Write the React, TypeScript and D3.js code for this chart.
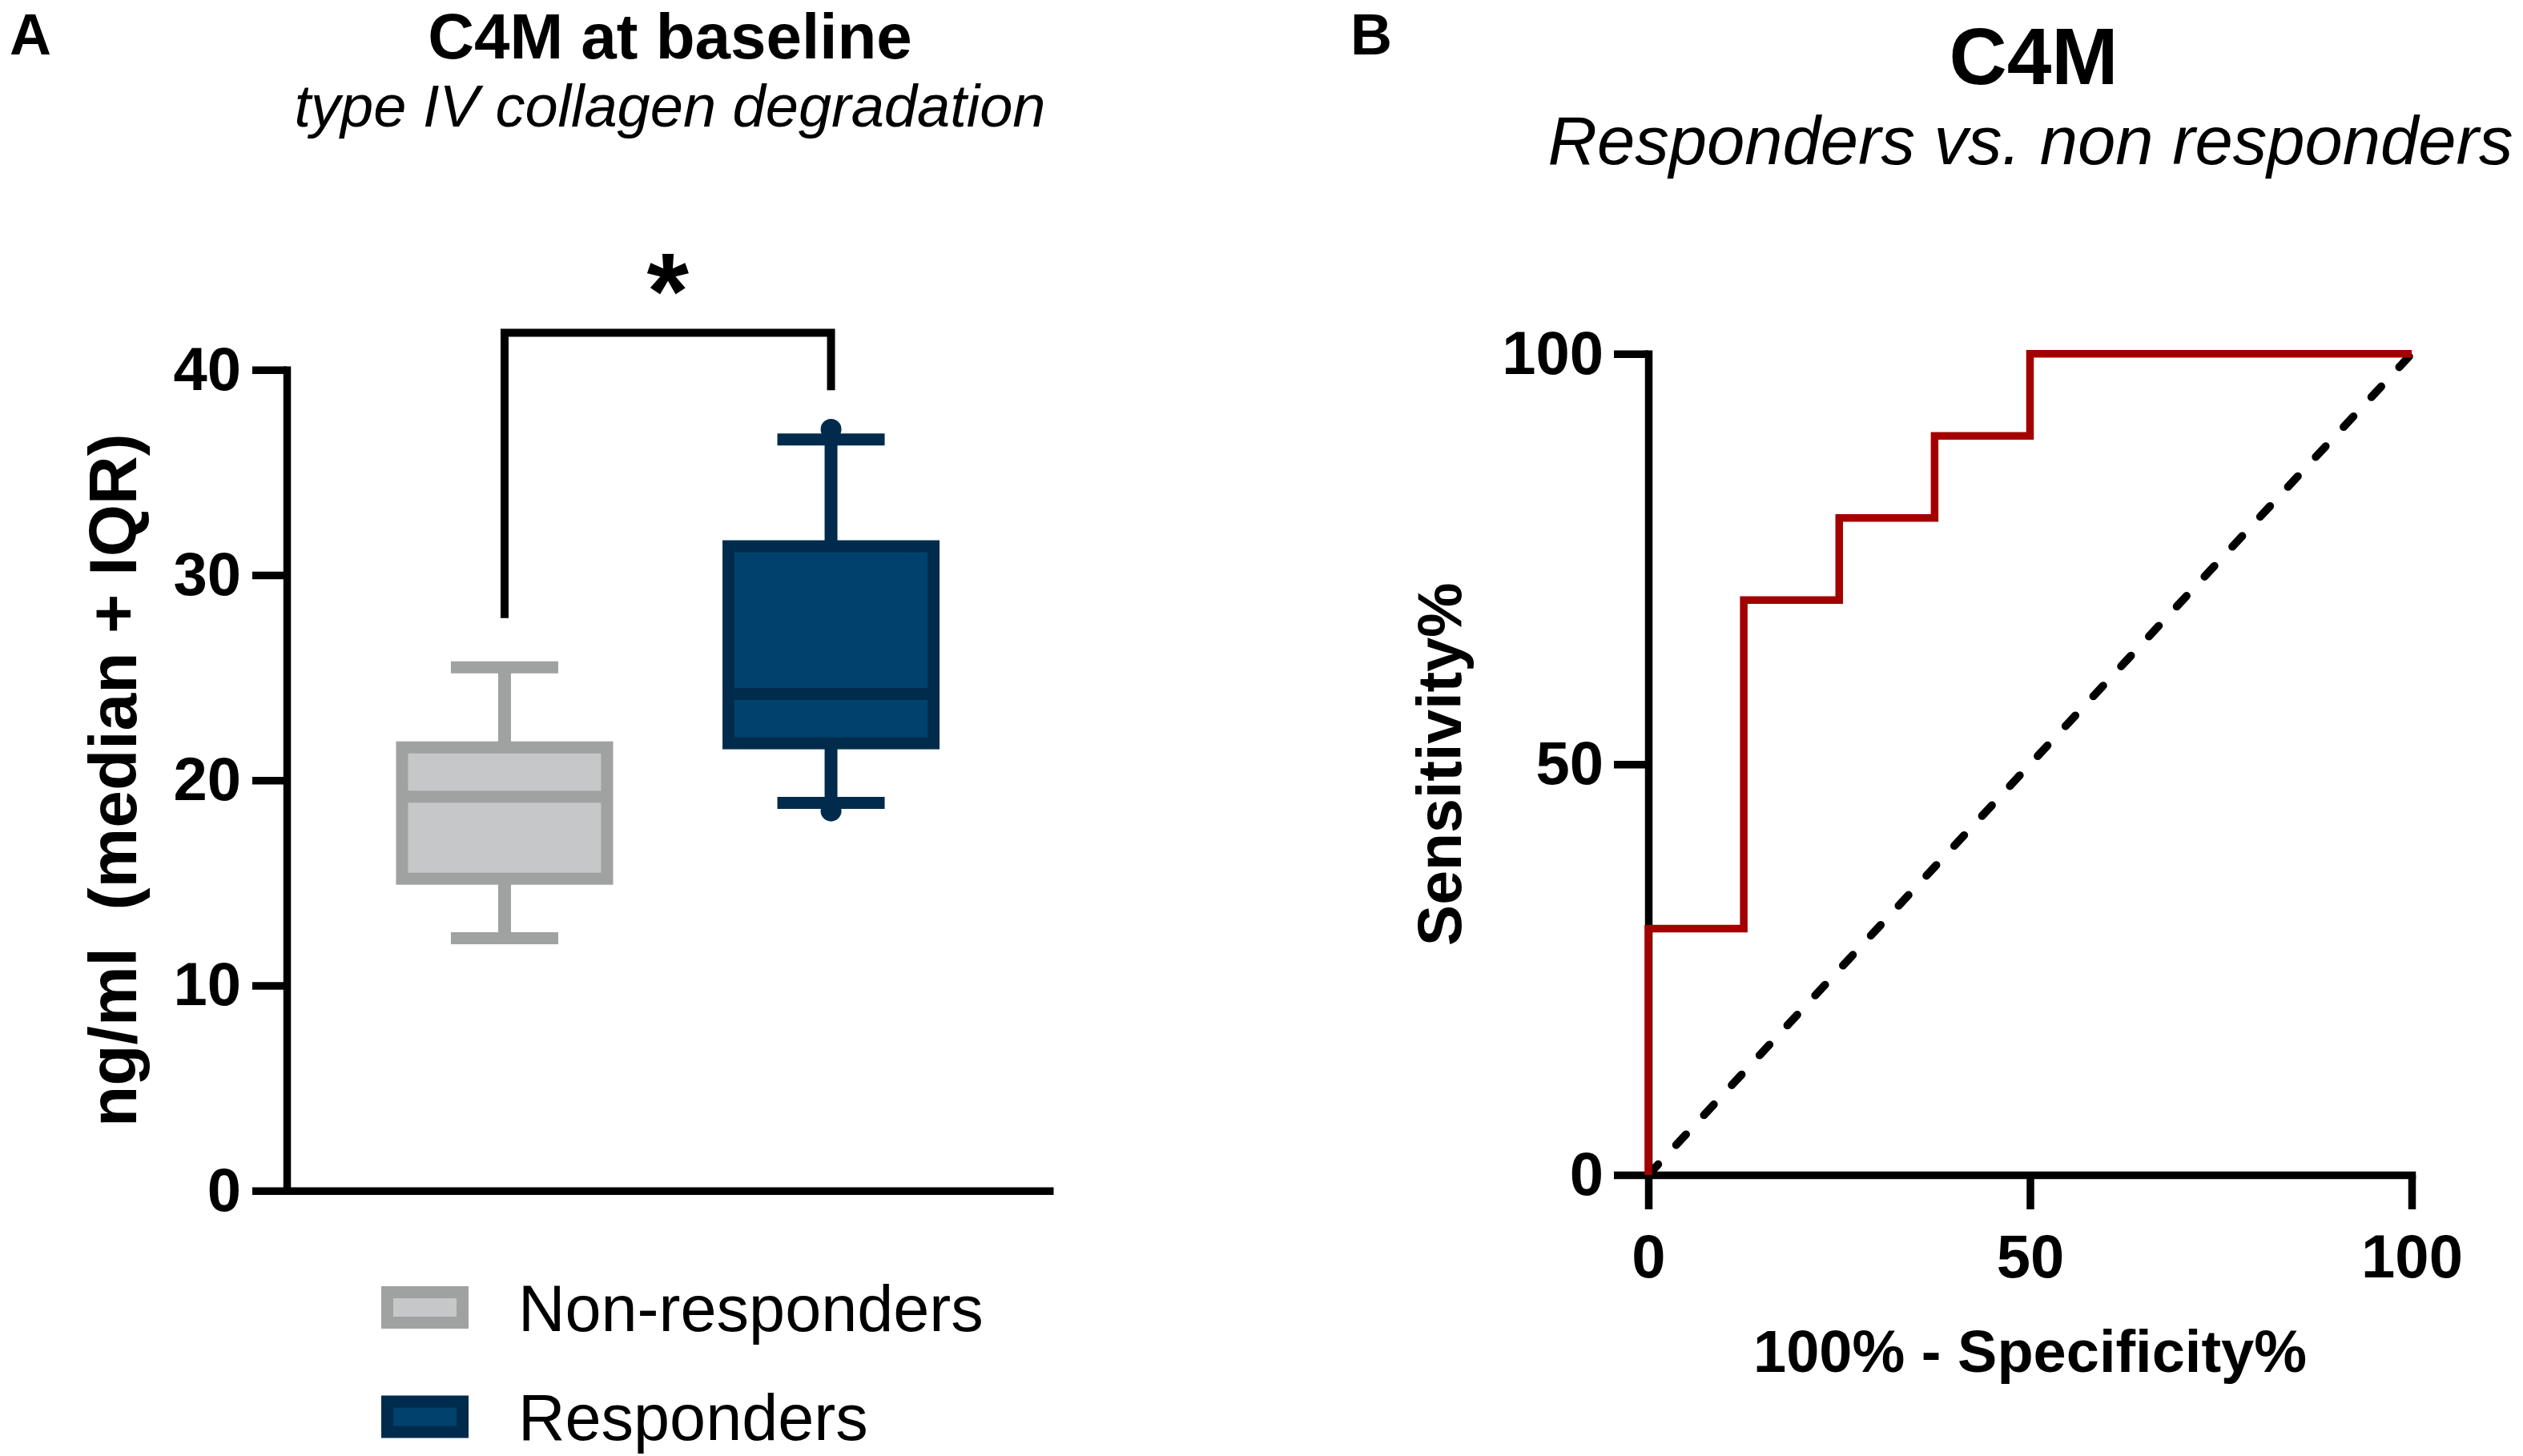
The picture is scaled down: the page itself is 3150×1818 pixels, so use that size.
import { useEffect, useRef } from "react";
import * as d3 from "d3";

const W = 3150;
const H = 1818;
const FONT = "'Liberation Sans', Arial, Helvetica, sans-serif";

// Panel A: box plot values (ng/ml)
const groups = ["Non-responders", "Responders"];
const whiskerLow = [12.3, 18.9];
const q1 = [15.2, 21.8];
const medians = [19.2, 24.2];
const q3 = [21.6, 31.4];
const whiskerHigh = [25.5, 36.6];
const outlierGroups = ["Responders", "Responders"];
const outlierValues = [37.1, 18.5];
const fillColors = ["#c6c7c8", "#00426d"];
const strokeColors = ["#a0a1a1", "#012b4c"];
const yTicksA = [0, 10, 20, 30, 40];
const bracketTop = 41.8;
const bracketEnds = [27.9, 39.0];
const sigLabel = "*";

// Panel B: ROC curve (100% - specificity, sensitivity)
const rocFpr = [0, 0, 12.5, 25, 37.5, 50, 100];
const rocTpr = [0, 30, 70, 80, 90, 100, 100];
const chanceX = [0, 100];
const chanceY = [0, 100];
const ticksB = [0, 50, 100];

const A = { left: 358, right: 1315, top: 461.7, bottom: 1486.7 };
const B = { left: 2058, right: 3011, top: 441.7, bottom: 1467 };
const AXIS_W = 9.5;

function styleAxis(axis: d3.Selection<SVGGElement, unknown, null, undefined>, cap: string) {
  axis.attr("font-family", null).attr("font-size", null);
  axis.select(".domain").attr("stroke", "#000").attr("stroke-width", AXIS_W).attr("stroke-linecap", cap);
  axis.selectAll(".tick line").attr("stroke", "#000").attr("stroke-width", AXIS_W);
  axis
    .selectAll(".tick text")
    .attr("fill", "#000")
    .attr("font-size", 76)
    .attr("font-weight", "bold")
    .attr("font-family", FONT);
}

export default function App() {
  const svgRef = useRef<SVGSVGElement>(null);

  useEffect(() => {
    document.body.style.margin = "0";
    const svg = d3.select(svgRef.current);
    svg.selectAll("*").remove();

    // ---------- Panel A ----------
    const yA = d3.scaleLinear().domain([0, 40]).range([A.bottom, A.top]);
    const xA = d3.scalePoint<string>().domain(groups).range([A.left, A.right]).padding(0.674).align(0.495);
    const boxW = 256;
    const capW = 134;

    const gA = svg.append("g");

    const yAxisA = gA
      .append("g")
      .attr("transform", `translate(${A.left},0)`)
      .call(d3.axisLeft(yA).tickValues(yTicksA).tickSize(43).tickSizeOuter(0).tickPadding(14));
    styleAxis(yAxisA, "square");

    const xAxisA = gA
      .append("g")
      .attr("transform", `translate(0,${A.bottom})`)
      .call(d3.axisBottom(xA).tickSize(0).tickSizeOuter(0).tickFormat(() => ""));
    styleAxis(xAxisA, "butt");

    groups.forEach((g, i) => {
      const cx = xA(g) as number;
      const col = strokeColors[i];
      // whiskers
      gA.append("line")
        .attr("x1", cx).attr("x2", cx)
        .attr("y1", yA(q3[i])).attr("y2", yA(whiskerHigh[i]))
        .attr("stroke", col).attr("stroke-width", 16);
      gA.append("line")
        .attr("x1", cx).attr("x2", cx)
        .attr("y1", yA(q1[i])).attr("y2", yA(whiskerLow[i]))
        .attr("stroke", col).attr("stroke-width", 16);
      [whiskerHigh[i], whiskerLow[i]].forEach((v) => {
        gA.append("line")
          .attr("x1", cx - capW / 2).attr("x2", cx + capW / 2)
          .attr("y1", yA(v)).attr("y2", yA(v))
          .attr("stroke", col).attr("stroke-width", 15);
      });
      // box
      gA.append("rect")
        .attr("x", cx - boxW / 2)
        .attr("y", yA(q3[i]))
        .attr("width", boxW)
        .attr("height", yA(q1[i]) - yA(q3[i]))
        .attr("fill", fillColors[i])
        .attr("stroke", col)
        .attr("stroke-width", 15);
      gA.append("line")
        .attr("x1", cx - boxW / 2).attr("x2", cx + boxW / 2)
        .attr("y1", yA(medians[i])).attr("y2", yA(medians[i]))
        .attr("stroke", col).attr("stroke-width", 15);
    });

    outlierValues.forEach((v, i) => {
      const gi = groups.indexOf(outlierGroups[i]);
      gA.append("circle")
        .attr("cx", xA(outlierGroups[i]) as number)
        .attr("cy", yA(v))
        .attr("r", 13)
        .attr("fill", strokeColors[gi]);
    });

    // significance bracket
    const bx0 = xA(groups[0]) as number;
    const bx1 = xA(groups[1]) as number;
    gA.append("path")
      .attr("d", `M${bx0},${yA(bracketEnds[0])}V${yA(bracketTop)}H${bx1}V${yA(bracketEnds[1])}`)
      .attr("fill", "none")
      .attr("stroke", "#000")
      .attr("stroke-width", 10)
      .attr("stroke-linejoin", "miter");
    gA.append("text")
      .attr("x", (bx0 + bx1) / 2)
      .attr("y", yA(bracketTop) - 6)
      .attr("text-anchor", "middle")
      .attr("font-family", FONT)
      .attr("font-weight", "bold")
      .attr("font-size", 135)
      .text(sigLabel);

    // y label
    gA.append("text")
      .attr("transform", `translate(170,${(A.top + A.bottom) / 2}) rotate(-90)`)
      .attr("text-anchor", "middle")
      .attr("font-family", FONT)
      .attr("font-weight", "bold")
      .attr("font-size", 84)
      .style("white-space", "pre")
      .text("ng/ml  (median + IQR)");

    // titles
    const cxA = (A.left + A.right) / 2;
    gA.append("text")
      .attr("x", cxA).attr("y", 73)
      .attr("text-anchor", "middle")
      .attr("font-family", FONT).attr("font-weight", "bold").attr("font-size", 80)
      .text("C4M at baseline");
    gA.append("text")
      .attr("x", cxA).attr("y", 158)
      .attr("text-anchor", "middle")
      .attr("font-family", FONT).attr("font-style", "italic").attr("font-size", 74)
      .text("type IV collagen degradation");

    // legend
    groups.forEach((g, i) => {
      const cy = 1632.5 + i * 136.5;
      gA.append("rect")
        .attr("x", 483.5).attr("y", cy - 19)
        .attr("width", 94).attr("height", 38)
        .attr("fill", fillColors[i]).attr("stroke", strokeColors[i]).attr("stroke-width", 15);
      gA.append("text")
        .attr("x", 647).attr("y", cy + 29)
        .attr("font-family", FONT).attr("font-size", 81)
        .text(g);
    });

    // ---------- Panel B ----------
    const xB = d3.scaleLinear().domain([0, 100]).range([B.left, B.right]);
    const yB = d3.scaleLinear().domain([0, 100]).range([B.bottom, B.top]);
    const gB = svg.append("g");

    const yAxisB = gB
      .append("g")
      .attr("transform", `translate(${B.left},0)`)
      .call(d3.axisLeft(yB).tickValues(ticksB).tickSize(43).tickSizeOuter(0).tickPadding(13));
    styleAxis(yAxisB, "square");
    const xAxisB = gB
      .append("g")
      .attr("transform", `translate(0,${B.bottom})`)
      .call(d3.axisBottom(xB).tickValues(ticksB).tickSize(43).tickSizeOuter(0).tickPadding(31));
    styleAxis(xAxisB, "square");

    const chance = chanceX.map((x, i) => [x, chanceY[i]] as [number, number]);
    gB.append("path")
      .datum(chance)
      .attr("d", d3.line<[number, number]>().x((d) => xB(d[0])).y((d) => yB(d[1])))
      .attr("fill", "none")
      .attr("stroke", "#000")
      .attr("stroke-width", 10)
      .attr("stroke-linecap", "round")
      .attr("stroke-dasharray", "18,33");

    const roc = rocFpr.map((x, i) => [x, rocTpr[i]] as [number, number]);
    gB.append("path")
      .datum(roc)
      .attr(
        "d",
        d3.line<[number, number]>().x((d) => xB(d[0])).y((d) => yB(d[1])).curve(d3.curveStepAfter)
      )
      .attr("fill", "none")
      .attr("stroke", "#a30000")
      .attr("stroke-width", 9.5)
      .attr("stroke-linejoin", "miter");

    const cxB = (B.left + B.right) / 2;
    gB.append("text")
      .attr("transform", `translate(1824,${(B.top + B.bottom) / 2}) rotate(-90)`)
      .attr("text-anchor", "middle")
      .attr("font-family", FONT).attr("font-weight", "bold").attr("font-size", 77)
      .text("Sensitivity%");
    gB.append("text")
      .attr("x", cxB).attr("y", 1713)
      .attr("text-anchor", "middle")
      .attr("font-family", FONT).attr("font-weight", "bold").attr("font-size", 74)
      .text("100% - Specificity%");
    gB.append("text")
      .attr("x", 2539).attr("y", 105)
      .attr("text-anchor", "middle")
      .attr("font-family", FONT).attr("font-weight", "bold").attr("font-size", 100)
      .text("C4M");
    gB.append("text")
      .attr("x", 2535).attr("y", 205)
      .attr("text-anchor", "middle")
      .attr("font-family", FONT).attr("font-style", "italic").attr("font-size", 85)
      .text("Responders vs. non responders");

    // panel letters
    svg.append("text")
      .attr("x", 12).attr("y", 68)
      .attr("font-family", FONT).attr("font-weight", "bold").attr("font-size", 72)
      .text("A");
    svg.append("text")
      .attr("x", 1686).attr("y", 68)
      .attr("font-family", FONT).attr("font-weight", "bold").attr("font-size", 72)
      .text("B");
  }, []);

  return (
    <svg
      ref={svgRef}
      width={W}
      height={H}
      viewBox={`0 0 ${W} ${H}`}
      style={{ position: "absolute", left: 0, top: 0, display: "block", background: "#fff" }}
    />
  );
}
